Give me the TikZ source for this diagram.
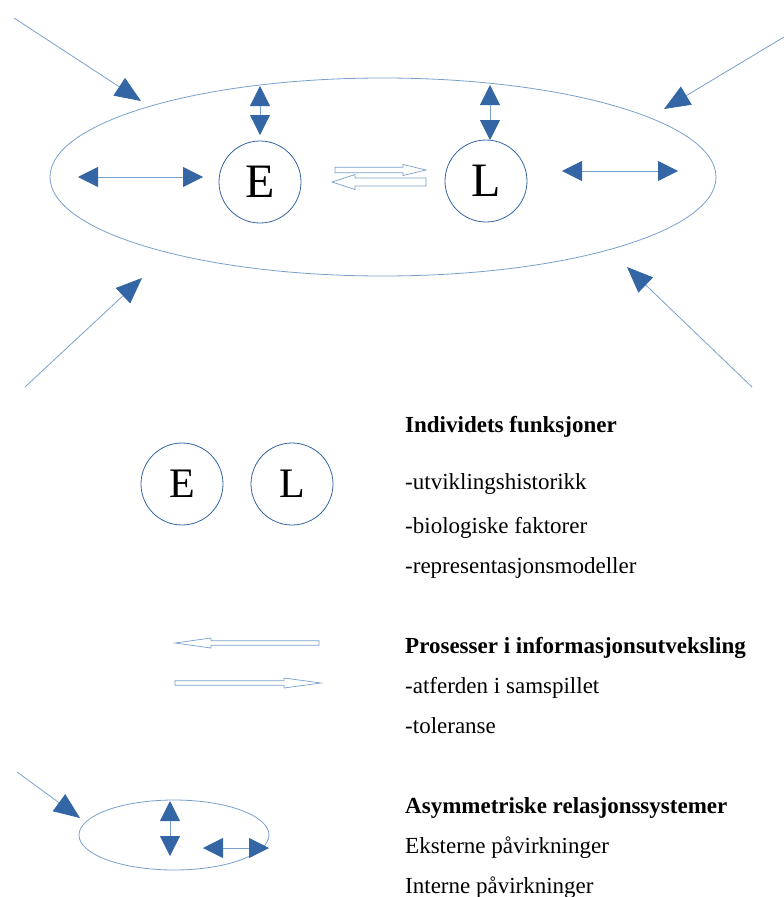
\documentclass[tikz,border=0pt]{standalone}
\usepackage{fontspec}
\setmainfont{Liberation Serif}
\usetikzlibrary{arrows.meta,shapes.geometric}
\definecolor{arrblue}{RGB}{52,101,164}
\definecolor{lineblue}{RGB}{120,160,205}
\begin{document}
\begin{tikzpicture}[x=1pt,y=-1pt,
  ring/.style={ellipse,draw=lineblue,line width=0.8pt,inner sep=0pt},
  circ/.style={circle,draw=arrblue,line width=0.8pt,minimum size=82pt,inner sep=0pt,font=\fontsize{48}{48}\selectfont},
  dbl/.style={draw=lineblue,line width=0.8pt,{Triangle[length=20pt,width=20pt,color=arrblue]}-{Triangle[length=20pt,width=20pt,color=arrblue]}},
  inarr/.style={draw=lineblue,line width=0.8pt,-{Triangle[length=26pt,width=21pt,color=arrblue]}},
  hollow/.style={draw=lineblue,line width=0.7pt,fill=white},
  txt/.style={anchor=base west,inner sep=0pt,font=\fontsize{23}{27}\selectfont},
  head/.style={txt,font=\fontsize{23}{27}\selectfont\bfseries}]
\useasboundingbox (0,0) rectangle (784,897);
% ---- top system ----
\node[ring,minimum width=666pt,minimum height=198pt] (big) at (383,177) {};
\node[circ] (E1) at (260,182) {E};
\node[circ] (L1) at (486,181) {L};
\coordinate (eT1) at (260,86); \coordinate (eT2) at (260,135);
\coordinate (lT1) at (490,85); \coordinate (lT2) at (490,140);
\draw[dbl] (eT1) -- (eT2);
\draw[dbl] (lT1) -- (lT2);
\coordinate (hl1) at (78,177); \coordinate (hl2) at (203,177);
\coordinate (hr1) at (562,171); \coordinate (hr2) at (678,171);
\draw[dbl] (hl1) -- (hl2);
\draw[dbl] (hr1) -- (hr2);
% incoming arrows
\coordinate (a1s) at (14,18);  \coordinate (a1e) at (141,101);
\coordinate (a2s) at (784,37); \coordinate (a2e) at (664,109);
\coordinate (a3s) at (25,387); \coordinate (a3e) at (142,278);
\coordinate (a4s) at (752,387);\coordinate (a4e) at (627,267);
\draw[inarr] (a1s) -- (a1e);
\draw[inarr] (a2s) -- (a2e);
\draw[inarr] (a3s) -- (a3e);
\draw[inarr] (a4s) -- (a4e);
% hollow exchange arrows
\draw[hollow] (335,167.3) -- (403,167.3) -- (403,164.5) -- (426,170) -- (403,175.5) -- (403,172.7) -- (335,172.7) -- cycle;
\draw[hollow] (426,178) -- (355,178) -- (355,174.5) -- (332,182) -- (355,189.5) -- (355,186) -- (426,186) -- cycle;
% ---- legend ----
\node[circ,font=\fontsize{42}{42}\selectfont] (E2) at (182,484) {E};
\node[circ,font=\fontsize{42}{42}\selectfont] (L2) at (292,484) {L};
\draw[hollow] (319,640.8) -- (211,640.8) -- (211,638) -- (175,643) -- (211,648) -- (211,645.2) -- (319,645.2) -- cycle;
\draw[hollow] (175,680.8) -- (284,680.8) -- (284,678) -- (321,683) -- (284,688) -- (284,685.2) -- (175,685.2) -- cycle;
\node[ring,minimum width=190pt,minimum height=70pt] (small) at (174,835) {};
\coordinate (b1s) at (17,772); \coordinate (b1e) at (80,818);
\draw[inarr] (b1s) -- (b1e);
\coordinate (bv1) at (170,801); \coordinate (bv2) at (170,856);
\draw[dbl] (bv1) -- (bv2);
\coordinate (bh1) at (203,848); \coordinate (bh2) at (269,848);
\draw[dbl] (bh1) -- (bh2);
% texts
\node[head] (t1) at (405,432) {Individets funksjoner};
\node[txt] (t2) at (405,489) {-utviklingshistorikk};
\node[txt] (t3) at (405,533) {-biologiske faktorer};
\node[txt] (t4) at (405,573) {-representasjonsmodeller};
\node[head] (t5) at (405,653) {Prosesser i informasjonsutveksling};
\node[txt] (t6) at (405,693) {-atferden i samspillet};
\node[txt] (t7) at (405,733) {-toleranse};
\node[head] (t8) at (405,813) {Asymmetriske relasjonssystemer};
\node[txt] (t9) at (405,853) {Eksterne påvirkninger};
\node[txt] (t10) at (405,893) {Interne påvirkninger};
\end{tikzpicture}
\end{document}
